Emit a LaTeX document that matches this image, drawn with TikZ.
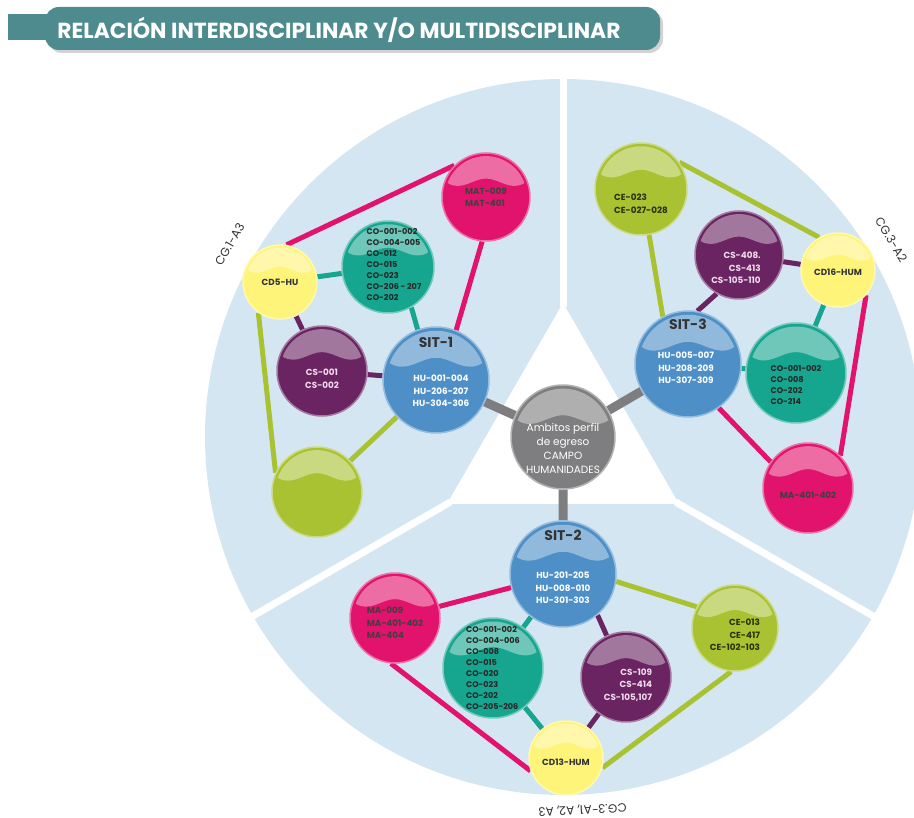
\documentclass[tikz,border=0pt]{standalone}
\usepackage{fontspec}
\setmainfont{Poppins}
\usetikzlibrary{calc,positioning}
\definecolor{headteal}{HTML}{4E8B8E}
\definecolor{discblue}{HTML}{D5E6F3}
\definecolor{sitblue}{HTML}{4D8FC6}
\definecolor{hubgray}{HTML}{7E7E80}
\definecolor{cmag}{HTML}{E2136C}
\definecolor{cteal}{HTML}{16A58F}
\definecolor{cpur}{HTML}{692461}
\definecolor{clime}{HTML}{A8C232}
\definecolor{cyel}{HTML}{FFF47A}
\definecolor{pinktext}{HTML}{F3DCEB}
\pgfdeclarelayer{disc}
\pgfdeclarelayer{links}
\pgfsetlayers{disc,links,main}
\tikzset{
  ball/.style 2 args={circle, inner sep=0pt, fill=#1, draw=#1!60!white, line width=1.5pt, minimum size={2*#2pt},
    path picture={\fill[white, opacity=.38, shift={(path picture bounding box.center)}, x=#2pt, y=#2pt]
      (160:0.93) arc (160:20:0.93) .. controls (0.55,0.12) and (0.3,0.42) .. (0,0.42)
      .. controls (-0.3,0.42) and (-0.55,0.12) .. cycle;}},
  link/.style={draw=#1, line width=5pt},
  spoke/.style={draw=hubgray, line width=9pt},
  codes/.style={inner sep=0pt, font=\fontsize{8.8}{12.5}\selectfont\bfseries},
  colist/.style={inner sep=0pt, align=left, text=black!85, font=\fontsize{8.1}{11}\selectfont\bfseries},
  sitname/.style={inner sep=0pt, text=black!80, font=\fontsize{14}{14}\selectfont\bfseries},
  cglabel/.style={inner sep=0pt, text=black!80, font=\fontsize{12}{14}\selectfont},
}
\begin{document}
\begin{tikzpicture}[x=1pt, y=-1pt]
  \useasboundingbox (0,0) rectangle (914,818);
  % Title banner
  \fill[headteal] (8,14) rectangle (60,40);
  \fill[black!35, opacity=.5, rounded corners=14pt] (48,10) rectangle (663,53);
  \fill[headteal, rounded corners=14pt] (45,7) rectangle (660,50);
  \node[inner sep=0pt, text=white, font=\fontsize{21.8}{22}\selectfont\bfseries] (head) at (339,30)
    {RELACIÓN INTERDISCIPLINAR Y/O MULTIDISCIPLINAR};
  % Disc and sectors
  \coordinate (disc) at (563,437);
  \begin{pgfonlayer}{disc}
    \fill[discblue] (disc) circle[radius=358pt];
    \fill[white] ($(disc)+(90:134pt)$) -- ($(disc)+(210:134pt)$) -- ($(disc)+(330:134pt)$) -- cycle;
    \foreach \a in {90,210,330}
      \draw[white, line width=7pt] ($(disc)+(\a:130pt)$) -- ($(disc)+(\a:368pt)$);
  \end{pgfonlayer}
  \node[cglabel, rotate=60] (cg1) at ($(disc)+(150:385pt)$) {CG.1-A3};
  \node[cglabel, rotate=-59] (cg3) at ($(disc)+(31:383pt)$) {CG.3-A2};
  \node[cglabel, rotate=183] (cg2) at ($(disc)+(273:373pt)$) {CG.3-A1, A2, A3};
  % Centre
  \node[ball={hubgray}{52}] (hub) at (disc) {};
  \node[inner sep=0pt, text=white, align=center, font=\fontsize{10.5}{14}\selectfont] (hubtxt)
    at ([yshift=-12pt]hub.center) {Ambitos perfil\\de egreso\\CAMPO\\HUMANIDADES};
  % SIT-1
  \node[ball={sitblue}{53}] (sit1) at (436,380) {};
  \node[sitname] (sit1name) at ([yshift=38pt]sit1.center) {SIT-1};
  \node[codes, text=white, align=center] (sit1codes) at ([shift={(5pt,-11pt)}]sit1.center) {HU-001-004\\HU-206-207\\HU-304-306};
  \node[ball={cmag}{44}] (mat1) at (486,197) {};
  \node[codes, text=black!75, align=left] (mat1codes) at (mat1) {MAT-009\\MAT-401};
  \node[ball={cteal}{46}] (co1) at (388,267) {};
  \node[colist] (co1codes) at ([shift={(6pt,2pt)}]co1.center) {CO-001-002\\CO-004-005\\CO-012\\CO-015\\CO-023\\CO-206 - 207\\CO-202};
  \node[ball={cyel}{37}] (cd5) at (280,282) {};
  \node[codes, text=black!80] (cd5name) at (cd5) {CD5-HU};
  \node[ball={cpur}{45}] (cs1) at (322,371) {};
  \node[codes, text=pinktext, align=center] (cs1codes) at ([yshift=-8pt]cs1.center) {CS-001\\CS-002};
  \node[ball={clime}{45}] (ce1) at (317,492) {};
  % SIT-3
  \node[ball={sitblue}{53}] (sit3) at (688,364) {};
  \node[sitname] (sit3name) at ([yshift=40pt]sit3.center) {SIT-3};
  \node[codes, text=white, align=center] (sit3codes) at ([shift={(-2pt,-4pt)}]sit3.center) {HU-005-007\\HU-208-209\\HU-307-309};
  \node[ball={clime}{46}] (ce3) at (641,189) {};
  \node[codes, text=black!75!clime, align=left] (ce3codes) at ([yshift=-15pt]ce3.center) {CE-023\\CE-027-028};
  \node[ball={cpur}{44}] (cs3) at (739,255) {};
  \node[codes, text=pinktext, align=right] (cs3codes) at ([shift={(-3pt,-13pt)}]cs3.center) {CS-408.\\CS-413\\CS-105-110};
  \node[ball={cyel}{37}] (cd16) at (838,270) {};
  \node[codes, text=black!80] (cd16name) at ([yshift=-2pt]cd16.center) {CD16-HUM};
  \node[ball={cteal}{50}] (co3) at (796,373) {};
  \node[colist] (co3codes) at ([yshift=-12pt]co3.center) {CO-001-002\\CO-008\\CO-202\\CO-214};
  \node[ball={cmag}{45}] (ma3) at (808,488) {};
  \node[codes, text=black!75] (ma3codes) at ([yshift=-7pt]ma3.center) {MA-401-402};
  % SIT-2
  \node[ball={sitblue}{53}] (sit2) at (563,574) {};
  \node[sitname] (sit2name) at ([yshift=39pt]sit2.center) {SIT-2};
  \node[codes, text=white, align=center] (sit2codes) at ([yshift=-14pt]sit2.center) {HU-201-205\\HU-008-010\\HU-301-303};
  \node[ball={cmag}{45}] (ma2) at (395,618) {};
  \node[codes, text=black!75, align=left] (ma2codes) at ([yshift=-5pt]ma2.center) {MA-009\\MA-401-402\\MA-404};
  \node[ball={cteal}{50}] (co2) at (493,668) {};
  \node[colist] (co2codes) at (co2) {CO-001-002\\CO-004-006\\CO-008\\CO-015\\CO-020\\CO-023\\CO-202\\CO-205-206};
  \node[ball={cpur}{45}] (cs2) at (626,677) {};
  \node[codes, text=pinktext, align=right] (cs2codes) at ([shift={(2pt,-8pt)}]cs2.center) {CS-109\\CS-414\\CS-105,107};
  \node[ball={clime}{43}] (ce2) at (735,628) {};
  \node[codes, text=black!75!clime, align=right] (ce2codes) at ([yshift=-7pt]ce2.center) {CE-013\\CE-417\\CE-102-103};
  \node[ball={cyel}{37}] (cd13) at (566,758) {};
  \node[codes, text=black!80] (cd13name) at ([yshift=-4pt]cd13.center) {CD13-HUM};
  % Links
  \begin{pgfonlayer}{links}
    \path[spoke] (hub) -- (sit1) (hub) -- (sit2) (hub) -- (sit3);
    \path[link=cmag] (cd5.80) -- (mat1.135);
    \path[link=cmag] (mat1.265) -- (sit1.68);
    \path[link=cteal] (cd5) -- (co1);
    \path[link=cteal] (co1.-60) -- (sit1.110);
    \path[link=cpur] (cd5) -- (cs1);
    \path[link=cpur] (cs1) -- (sit1);
    \path[link=clime] (cd5.235) -- (ce1.155);
    \path[link=clime] (ce1) -- (sit1);
    \path[link=clime] (ce3.35) -- (cd16.120);
    \path[link=clime] (ce3.-80) -- (sit3.118);
    \path[link=cpur] (cs3.240) -- (sit3.80);
    \path[link=cpur] (cs3) -- (cd16);
    \path[link=cteal] (cd16) -- (co3);
    \path[link=cteal] (co3) -- (sit3);
    \path[link=cmag] (sit3.-55) -- (ma3.145);
    \path[link=cmag] (cd16.-42) -- (ma3.45);
    \path[link=cmag] (ma2) -- (sit2);
    \path[link=cmag] (ma2.265) -- (cd13.200);
    \path[link=cteal] (co2) -- (sit2);
    \path[link=cteal] (co2) -- (cd13);
    \path[link=cpur] (sit2.-50) -- (cs2.115);
    \path[link=cpur] (cs2) -- (cd13);
    \path[link=clime] (sit2.-8) -- (ce2.151);
    \path[link=clime] (ce2.265) -- (cd13.-15);
  \end{pgfonlayer}
\end{tikzpicture}
\end{document}
